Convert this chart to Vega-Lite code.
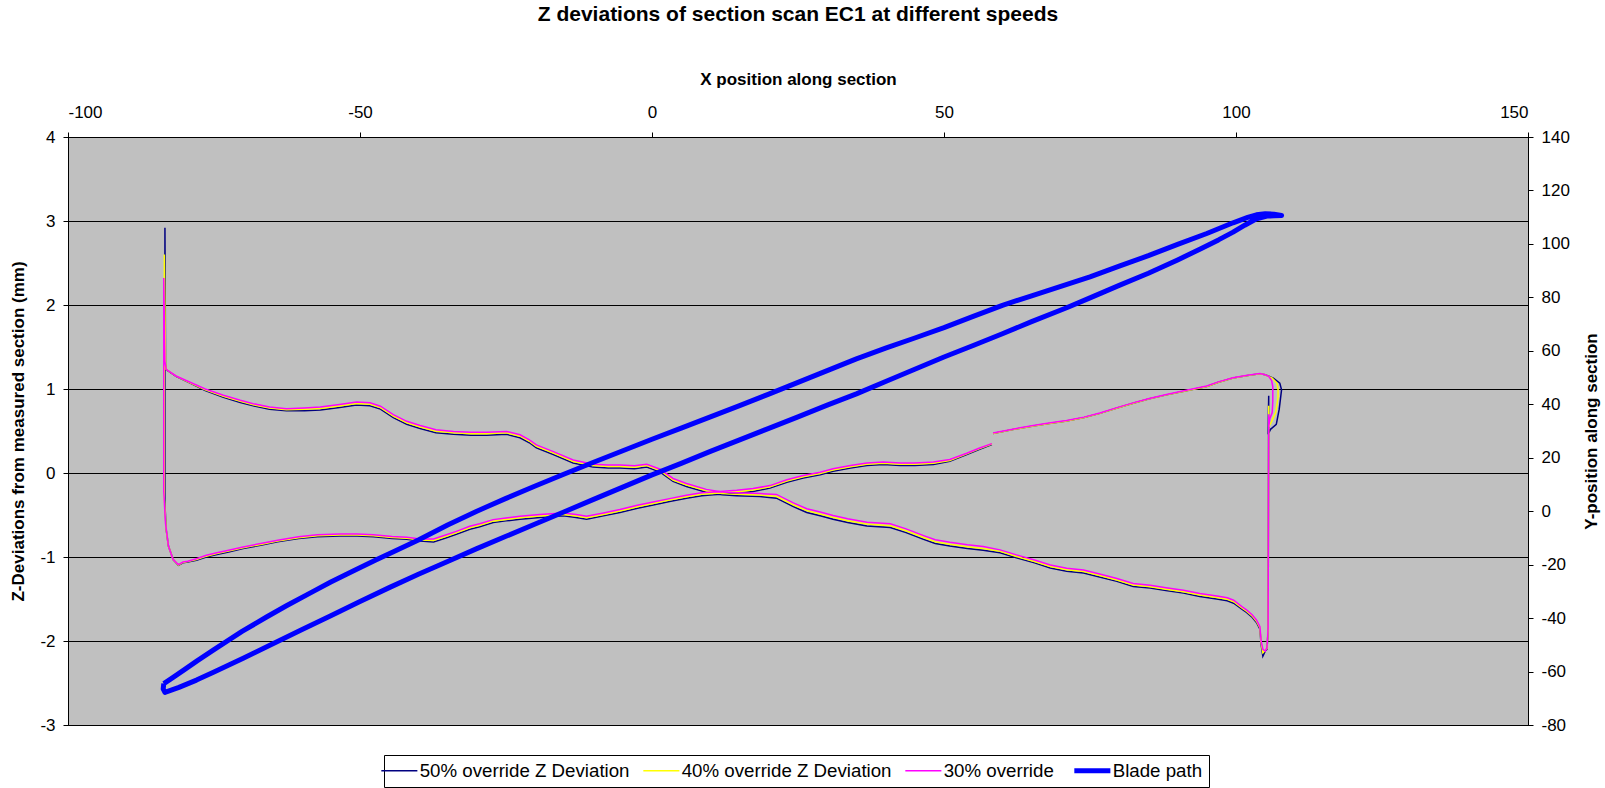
{
  "$schema": "https://vega.github.io/schema/vega-lite/v6.json",
  "width": 1460,
  "height": 588,
  "autosize": {"type": "none"},
  "padding": {"left": 68, "top": 137, "right": 77, "bottom": 63},
  "background": "#FFFFFF",
  "title": {"text": "Z deviations of section scan EC1 at different speeds", "anchor": "middle", "offset": 45},
  "config": {
    "font": "Liberation Sans",
    "view": {"fill": "#C0C0C0", "stroke": "#000000", "strokeWidth": 1},
    "title": {"font": "Liberation Sans", "fontSize": 21, "fontWeight": "bold", "color": "#000000"},
    "axis": {"domainColor": "#000000", "domainWidth": 1, "tickColor": "#000000", "tickWidth": 1, "tickSize": 5, "labelColor": "#000000", "labelFont": "Liberation Sans", "labelFontSize": 17, "titleFont": "Liberation Sans", "titleFontSize": 17, "titleFontWeight": "bold", "titleColor": "#000000", "grid": false,
      "labelExpr": "datum.value < 0 ? '-' + abs(datum.value) : '' + datum.value"},
    "legend": {"orient": "none", "legendX": 316, "legendY": 618, "direction": "horizontal", "strokeColor": "#000000", "fillColor": "#FFFFFF", "padding": 6, "labelFont": "Liberation Sans", "labelFontSize": 18.7, "labelColor": "#000000", "symbolType": "stroke", "symbolSize": 1300, "symbolStrokeWidth": 2, "labelOffset": 11, "columnPadding": 10, "labelLimit": 400}
  },
  "datasets": {
    "z50": [
      {"i":1,"x":58.2,"z":0.34},{"i":2,"x":56.0,"z":0.28},{"i":3,"x":53.9,"z":0.22},{"i":4,"x":51.0,"z":0.14},{"i":5,"x":48.2,"z":0.10},{"i":6,"x":45.0,"z":0.09},{"i":7,"x":42.5,"z":0.09},{"i":8,"x":39.6,"z":0.10},{"i":9,"x":36.8,"z":0.09},{"i":10,"x":34.0,"z":0.06},
      {"i":11,"x":31.0,"z":0.02},{"i":12,"x":28.8,"z":-0.02},{"i":13,"x":25.9,"z":-0.06},{"i":14,"x":23.1,"z":-0.11},{"i":15,"x":20.2,"z":-0.18},{"i":16,"x":17.3,"z":-0.22},{"i":17,"x":14.5,"z":-0.24},{"i":18,"x":10.5,"z":-0.26},{"i":19,"x":8.5,"z":-0.27},{"i":20,"x":5.9,"z":-0.30},
      {"i":21,"x":3.0,"z":-0.34},{"i":22,"x":0.2,"z":-0.38},{"i":23,"x":-2.5,"z":-0.42},{"i":24,"x":-5.5,"z":-0.47},{"i":25,"x":-8.3,"z":-0.51},{"i":26,"x":-11.2,"z":-0.55},{"i":27,"x":-13.0,"z":-0.53},{"i":28,"x":-15.2,"z":-0.51},{"i":29,"x":-19.2,"z":-0.53},{"i":30,"x":-22.6,"z":-0.55},
      {"i":31,"x":-25.0,"z":-0.57},{"i":32,"x":-27.2,"z":-0.59},{"i":33,"x":-29.5,"z":-0.64},{"i":34,"x":-31.2,"z":-0.67},{"i":35,"x":-33.5,"z":-0.73},{"i":36,"x":-35.2,"z":-0.77},{"i":37,"x":-37.4,"z":-0.82},{"i":38,"x":-39.7,"z":-0.81},{"i":39,"x":-42.0,"z":-0.79},{"i":40,"x":-44.5,"z":-0.78},
      {"i":41,"x":-47.7,"z":-0.76},{"i":42,"x":-50.5,"z":-0.75},{"i":43,"x":-53.4,"z":-0.75},{"i":44,"x":-57.3,"z":-0.76},{"i":45,"x":-60.5,"z":-0.78},{"i":46,"x":-64.1,"z":-0.82},{"i":47,"x":-67.0,"z":-0.86},{"i":48,"x":-70.0,"z":-0.90},{"i":49,"x":-72.5,"z":-0.94},{"i":50,"x":-74.5,"z":-0.97},
      {"i":51,"x":-76.3,"z":-1.00},{"i":52,"x":-78.0,"z":-1.04},{"i":53,"x":-79.5,"z":-1.06},{"i":54,"x":-80.3,"z":-1.07},{"i":55,"x":-81.1,"z":-1.10},{"i":56,"x":-82.0,"z":-1.03},{"i":57,"x":-82.8,"z":-0.87},{"i":58,"x":-83.2,"z":-0.67},{"i":59,"x":-83.4,"z":-0.37},{"i":60,"x":-83.4,"z":2.92},
      {"i":61,"x":-83.3,"z":1.30},{"i":62,"x":-83.2,"z":1.23},{"i":63,"x":-81.5,"z":1.15},{"i":64,"x":-79.1,"z":1.07},{"i":65,"x":-76.5,"z":0.98},{"i":66,"x":-73.4,"z":0.90},{"i":67,"x":-70.5,"z":0.84},{"i":68,"x":-68.3,"z":0.80},{"i":69,"x":-65.5,"z":0.76},{"i":70,"x":-62.6,"z":0.74},
      {"i":71,"x":-59.5,"z":0.74},{"i":72,"x":-56.8,"z":0.75},{"i":73,"x":-53.5,"z":0.78},{"i":74,"x":-50.6,"z":0.81},{"i":75,"x":-48.3,"z":0.80},{"i":76,"x":-46.5,"z":0.76},{"i":77,"x":-44.3,"z":0.66},{"i":78,"x":-42.0,"z":0.58},{"i":79,"x":-39.7,"z":0.53},{"i":80,"x":-37.0,"z":0.48},
      {"i":81,"x":-34.0,"z":0.46},{"i":82,"x":-31.0,"z":0.45},{"i":83,"x":-28.3,"z":0.45},{"i":84,"x":-24.9,"z":0.46},{"i":85,"x":-22.6,"z":0.42},{"i":86,"x":-21.0,"z":0.36},{"i":87,"x":-19.8,"z":0.30},{"i":88,"x":-16.9,"z":0.22},{"i":89,"x":-13.5,"z":0.12},{"i":90,"x":-10.1,"z":0.07},
      {"i":91,"x":-7.5,"z":0.06},{"i":92,"x":-5.5,"z":0.06},{"i":93,"x":-3.0,"z":0.05},{"i":94,"x":-0.9,"z":0.07},{"i":95,"x":1.4,"z":0.01},{"i":96,"x":3.6,"z":-0.10},{"i":97,"x":5.9,"z":-0.16},{"i":98,"x":9.3,"z":-0.23},{"i":99,"x":12.0,"z":-0.26},{"i":100,"x":14.5,"z":-0.27},
      {"i":101,"x":18.5,"z":-0.28},{"i":102,"x":21.3,"z":-0.30},{"i":103,"x":24.2,"z":-0.40},{"i":104,"x":26.5,"z":-0.47},{"i":105,"x":28.8,"z":-0.51},{"i":106,"x":31.0,"z":-0.55},{"i":107,"x":33.5,"z":-0.59},{"i":108,"x":36.8,"z":-0.63},{"i":109,"x":40.8,"z":-0.65},{"i":110,"x":43.5,"z":-0.71},
      {"i":111,"x":46.5,"z":-0.79},{"i":112,"x":48.5,"z":-0.84},{"i":113,"x":51.0,"z":-0.87},{"i":114,"x":54.0,"z":-0.90},{"i":115,"x":56.7,"z":-0.92},{"i":116,"x":59.6,"z":-0.95},{"i":117,"x":62.4,"z":-1.01},{"i":118,"x":65.5,"z":-1.07},{"i":119,"x":68.2,"z":-1.13},{"i":120,"x":71.0,"z":-1.17},
      {"i":121,"x":73.9,"z":-1.19},{"i":122,"x":76.8,"z":-1.24},{"i":123,"x":79.6,"z":-1.29},{"i":124,"x":82.4,"z":-1.35},{"i":125,"x":85.3,"z":-1.37},{"i":126,"x":88.0,"z":-1.40},{"i":127,"x":91.0,"z":-1.43},{"i":128,"x":93.8,"z":-1.47},{"i":129,"x":96.7,"z":-1.50},{"i":130,"x":98.5,"z":-1.52},
      {"i":131,"x":99.6,"z":-1.55},{"i":132,"x":101.0,"z":-1.62},{"i":133,"x":101.8,"z":-1.66},{"i":134,"x":102.8,"z":-1.72},{"i":135,"x":103.5,"z":-1.78},{"i":136,"x":104.1,"z":-1.86},{"i":137,"x":104.3,"z":-2.04},{"i":138,"x":104.6,"z":-2.18},{"i":139,"x":105.0,"z":-2.12},{"i":140,"x":105.3,"z":-2.10},
      {"i":141,"x":105.5,"z":-1.88},{"i":142,"x":105.6,"z":0.92},{"i":143,"x":105.5,"z":0.46},{"i":144,"x":105.9,"z":0.52},{"i":145,"x":106.9,"z":0.58},{"i":146,"x":107.4,"z":0.76},{"i":147,"x":107.8,"z":0.99},{"i":148,"x":107.5,"z":1.07},{"i":149,"x":106.4,"z":1.13},{"i":150,"x":105.0,"z":1.17},
      {"i":151,"x":104.1,"z":1.18},{"i":152,"x":102.0,"z":1.16},{"i":153,"x":99.5,"z":1.13},{"i":154,"x":97.0,"z":1.08},{"i":155,"x":95.0,"z":1.03},{"i":156,"x":91.5,"z":0.98},{"i":157,"x":88.1,"z":0.93},{"i":158,"x":85.0,"z":0.88},{"i":159,"x":82.4,"z":0.83},{"i":160,"x":79.5,"z":0.77},
      {"i":161,"x":76.7,"z":0.71},{"i":162,"x":74.0,"z":0.66},{"i":163,"x":71.0,"z":0.62},{"i":164,"x":68.0,"z":0.59},{"i":165,"x":65.3,"z":0.56},{"i":166,"x":62.0,"z":0.52},{"i":167,"x":58.4,"z":0.47}
    ],
    "z40": [
      {"i":1,"x":58.2,"z":0.345},{"i":2,"x":56.0,"z":0.288},{"i":3,"x":53.9,"z":0.228},{"i":4,"x":51.0,"z":0.15},{"i":5,"x":48.2,"z":0.115},{"i":6,"x":45.0,"z":0.105},{"i":7,"x":42.5,"z":0.105},{"i":8,"x":39.6,"z":0.115},{"i":9,"x":36.8,"z":0.105},{"i":10,"x":34.0,"z":0.075},
      {"i":11,"x":31.0,"z":0.035},{"i":12,"x":28.8,"z":-0.005},{"i":13,"x":25.9,"z":-0.045},{"i":14,"x":23.1,"z":-0.095},{"i":15,"x":20.2,"z":-0.165},{"i":16,"x":17.3,"z":-0.203},{"i":17,"x":14.5,"z":-0.223},{"i":18,"x":10.5,"z":-0.243},{"i":19,"x":8.5,"z":-0.253},{"i":20,"x":5.9,"z":-0.283},
      {"i":21,"x":3.0,"z":-0.323},{"i":22,"x":0.2,"z":-0.363},{"i":23,"x":-2.5,"z":-0.403},{"i":24,"x":-5.5,"z":-0.453},{"i":25,"x":-8.3,"z":-0.493},{"i":26,"x":-11.2,"z":-0.533},{"i":27,"x":-13.0,"z":-0.513},{"i":28,"x":-15.2,"z":-0.493},{"i":29,"x":-19.2,"z":-0.513},{"i":30,"x":-22.6,"z":-0.533},
      {"i":31,"x":-25.0,"z":-0.553},{"i":32,"x":-27.2,"z":-0.573},{"i":33,"x":-29.5,"z":-0.623},{"i":34,"x":-31.2,"z":-0.653},{"i":35,"x":-33.5,"z":-0.713},{"i":36,"x":-35.2,"z":-0.753},{"i":37,"x":-37.4,"z":-0.803},{"i":38,"x":-39.7,"z":-0.798},{"i":39,"x":-42.0,"z":-0.778},{"i":40,"x":-44.5,"z":-0.768},
      {"i":41,"x":-47.7,"z":-0.748},{"i":42,"x":-50.5,"z":-0.738},{"i":43,"x":-53.4,"z":-0.738},{"i":44,"x":-57.3,"z":-0.748},{"i":45,"x":-60.5,"z":-0.77},{"i":46,"x":-64.1,"z":-0.81},{"i":47,"x":-67.0,"z":-0.85},{"i":48,"x":-70.0,"z":-0.89},{"i":49,"x":-72.5,"z":-0.93},{"i":50,"x":-74.5,"z":-0.96},
      {"i":51,"x":-76.3,"z":-0.99},{"i":52,"x":-78.0,"z":-1.03},{"i":53,"x":-79.5,"z":-1.055},{"i":54,"x":-80.3,"z":-1.065},{"i":55,"x":-81.1,"z":-1.095},{"i":56,"x":-82.0,"z":-1.03},{"i":57,"x":-82.8,"z":-0.87},{"i":58,"x":-83.2,"z":-0.67},{"i":59,"x":-83.5,"z":-0.30},{"i":60,"x":-83.5,"z":2.60},
      {"i":61,"x":-83.3,"z":1.31},{"i":62,"x":-83.2,"z":1.233},{"i":63,"x":-81.5,"z":1.153},{"i":64,"x":-79.1,"z":1.075},{"i":65,"x":-76.5,"z":0.99},{"i":66,"x":-73.4,"z":0.913},{"i":67,"x":-70.5,"z":0.853},{"i":68,"x":-68.3,"z":0.813},{"i":69,"x":-65.5,"z":0.773},{"i":70,"x":-62.6,"z":0.753},
      {"i":71,"x":-59.5,"z":0.758},{"i":72,"x":-56.8,"z":0.768},{"i":73,"x":-53.5,"z":0.798},{"i":74,"x":-50.6,"z":0.828},{"i":75,"x":-48.3,"z":0.818},{"i":76,"x":-46.5,"z":0.778},{"i":77,"x":-44.3,"z":0.678},{"i":78,"x":-42.0,"z":0.598},{"i":79,"x":-39.7,"z":0.548},{"i":80,"x":-37.0,"z":0.498},
      {"i":81,"x":-34.0,"z":0.478},{"i":82,"x":-31.0,"z":0.468},{"i":83,"x":-28.3,"z":0.468},{"i":84,"x":-24.9,"z":0.478},{"i":85,"x":-22.6,"z":0.438},{"i":86,"x":-21.0,"z":0.378},{"i":87,"x":-19.8,"z":0.318},{"i":88,"x":-16.9,"z":0.238},{"i":89,"x":-13.5,"z":0.138},{"i":90,"x":-10.1,"z":0.088},
      {"i":91,"x":-7.5,"z":0.078},{"i":92,"x":-5.5,"z":0.078},{"i":93,"x":-3.0,"z":0.068},{"i":94,"x":-0.9,"z":0.088},{"i":95,"x":1.4,"z":0.028},{"i":96,"x":3.6,"z":-0.083},{"i":97,"x":5.9,"z":-0.143},{"i":98,"x":9.3,"z":-0.213},{"i":99,"x":12.0,"z":-0.243},{"i":100,"x":14.5,"z":-0.253},
      {"i":101,"x":18.5,"z":-0.263},{"i":102,"x":21.3,"z":-0.278},{"i":103,"x":24.2,"z":-0.378},{"i":104,"x":26.5,"z":-0.448},{"i":105,"x":28.8,"z":-0.488},{"i":106,"x":31.0,"z":-0.528},{"i":107,"x":33.5,"z":-0.568},{"i":108,"x":36.8,"z":-0.608},{"i":109,"x":40.8,"z":-0.628},{"i":110,"x":43.5,"z":-0.688},
      {"i":111,"x":46.5,"z":-0.768},{"i":112,"x":48.5,"z":-0.818},{"i":113,"x":51.0,"z":-0.848},{"i":114,"x":54.0,"z":-0.878},{"i":115,"x":56.7,"z":-0.898},{"i":116,"x":59.6,"z":-0.933},{"i":117,"x":62.4,"z":-0.993},{"i":118,"x":65.5,"z":-1.053},{"i":119,"x":68.2,"z":-1.113},{"i":120,"x":71.0,"z":-1.153},
      {"i":121,"x":73.9,"z":-1.173},{"i":122,"x":76.8,"z":-1.223},{"i":123,"x":79.6,"z":-1.273},{"i":124,"x":82.4,"z":-1.333},{"i":125,"x":85.3,"z":-1.353},{"i":126,"x":88.0,"z":-1.383},{"i":127,"x":91.0,"z":-1.413},{"i":128,"x":93.8,"z":-1.453},{"i":129,"x":96.7,"z":-1.483},{"i":130,"x":98.5,"z":-1.503},
      {"i":131,"x":99.6,"z":-1.533},{"i":132,"x":101.0,"z":-1.605},{"i":133,"x":101.8,"z":-1.645},{"i":134,"x":102.8,"z":-1.705},{"i":135,"x":103.5,"z":-1.765},{"i":136,"x":104.1,"z":-1.845},{"i":137,"x":104.3,"z":-2.02},{"i":138,"x":104.6,"z":-2.14},{"i":139,"x":105.0,"z":-2.11},{"i":140,"x":105.3,"z":-2.09},
      {"i":141,"x":105.5,"z":-1.87},{"i":142,"x":105.6,"z":0.80},{"i":143,"x":105.6,"z":0.55},{"i":144,"x":106.0,"z":0.60},{"i":145,"x":106.8,"z":0.72},{"i":146,"x":107.2,"z":0.90},{"i":147,"x":107.2,"z":1.00},{"i":148,"x":107.0,"z":1.07},{"i":149,"x":106.2,"z":1.13},{"i":150,"x":105.0,"z":1.17},
      {"i":151,"x":104.1,"z":1.18},{"i":152,"x":102.0,"z":1.16},{"i":153,"x":99.5,"z":1.13},{"i":154,"x":97.0,"z":1.08},{"i":155,"x":95.0,"z":1.03},{"i":156,"x":91.5,"z":0.98},{"i":157,"x":88.1,"z":0.93},{"i":158,"x":85.0,"z":0.88},{"i":159,"x":82.4,"z":0.83},{"i":160,"x":79.5,"z":0.77},
      {"i":161,"x":76.7,"z":0.71},{"i":162,"x":74.0,"z":0.66},{"i":163,"x":71.0,"z":0.62},{"i":164,"x":68.0,"z":0.59},{"i":165,"x":65.3,"z":0.56},{"i":166,"x":62.0,"z":0.52},{"i":167,"x":58.4,"z":0.47}
    ],
    "z30": [
      {"i":1,"x":58.2,"z":0.35},{"i":2,"x":56.0,"z":0.295},{"i":3,"x":53.9,"z":0.235},{"i":4,"x":51.0,"z":0.16},{"i":5,"x":48.2,"z":0.13},{"i":6,"x":45.0,"z":0.12},{"i":7,"x":42.5,"z":0.12},{"i":8,"x":39.6,"z":0.13},{"i":9,"x":36.8,"z":0.12},{"i":10,"x":34.0,"z":0.09},
      {"i":11,"x":31.0,"z":0.05},{"i":12,"x":28.8,"z":0.01},{"i":13,"x":25.9,"z":-0.03},{"i":14,"x":23.1,"z":-0.08},{"i":15,"x":20.2,"z":-0.15},{"i":16,"x":17.3,"z":-0.185},{"i":17,"x":14.5,"z":-0.205},{"i":18,"x":10.5,"z":-0.225},{"i":19,"x":8.5,"z":-0.235},{"i":20,"x":5.9,"z":-0.265},
      {"i":21,"x":3.0,"z":-0.305},{"i":22,"x":0.2,"z":-0.345},{"i":23,"x":-2.5,"z":-0.385},{"i":24,"x":-5.5,"z":-0.435},{"i":25,"x":-8.3,"z":-0.475},{"i":26,"x":-11.2,"z":-0.515},{"i":27,"x":-13.0,"z":-0.495},{"i":28,"x":-15.2,"z":-0.475},{"i":29,"x":-19.2,"z":-0.495},{"i":30,"x":-22.6,"z":-0.515},
      {"i":31,"x":-25.0,"z":-0.535},{"i":32,"x":-27.2,"z":-0.555},{"i":33,"x":-29.5,"z":-0.605},{"i":34,"x":-31.2,"z":-0.635},{"i":35,"x":-33.5,"z":-0.695},{"i":36,"x":-35.2,"z":-0.735},{"i":37,"x":-37.4,"z":-0.785},{"i":38,"x":-39.7,"z":-0.785},{"i":39,"x":-42.0,"z":-0.765},{"i":40,"x":-44.5,"z":-0.755},
      {"i":41,"x":-47.7,"z":-0.735},{"i":42,"x":-50.5,"z":-0.725},{"i":43,"x":-53.4,"z":-0.725},{"i":44,"x":-57.3,"z":-0.735},{"i":45,"x":-60.5,"z":-0.76},{"i":46,"x":-64.1,"z":-0.80},{"i":47,"x":-67.0,"z":-0.84},{"i":48,"x":-70.0,"z":-0.88},{"i":49,"x":-72.5,"z":-0.92},{"i":50,"x":-74.5,"z":-0.95},
      {"i":51,"x":-76.3,"z":-0.98},{"i":52,"x":-78.0,"z":-1.02},{"i":53,"x":-79.5,"z":-1.05},{"i":54,"x":-80.3,"z":-1.06},{"i":55,"x":-81.1,"z":-1.09},{"i":56,"x":-82.0,"z":-1.03},{"i":57,"x":-82.8,"z":-0.87},{"i":58,"x":-83.3,"z":-0.60},{"i":59,"x":-83.6,"z":-0.22},{"i":60,"x":-83.6,"z":2.32},
      {"i":61,"x":-83.4,"z":1.33},{"i":62,"x":-83.2,"z":1.235},{"i":63,"x":-81.5,"z":1.155},{"i":64,"x":-79.1,"z":1.08},{"i":65,"x":-76.5,"z":1.00},{"i":66,"x":-73.4,"z":0.925},{"i":67,"x":-70.5,"z":0.865},{"i":68,"x":-68.3,"z":0.825},{"i":69,"x":-65.5,"z":0.785},{"i":70,"x":-62.6,"z":0.765},
      {"i":71,"x":-59.5,"z":0.775},{"i":72,"x":-56.8,"z":0.785},{"i":73,"x":-53.5,"z":0.815},{"i":74,"x":-50.6,"z":0.845},{"i":75,"x":-48.3,"z":0.835},{"i":76,"x":-46.5,"z":0.795},{"i":77,"x":-44.3,"z":0.695},{"i":78,"x":-42.0,"z":0.615},{"i":79,"x":-39.7,"z":0.565},{"i":80,"x":-37.0,"z":0.515},
      {"i":81,"x":-34.0,"z":0.495},{"i":82,"x":-31.0,"z":0.485},{"i":83,"x":-28.3,"z":0.485},{"i":84,"x":-24.9,"z":0.495},{"i":85,"x":-22.6,"z":0.455},{"i":86,"x":-21.0,"z":0.395},{"i":87,"x":-19.8,"z":0.335},{"i":88,"x":-16.9,"z":0.255},{"i":89,"x":-13.5,"z":0.155},{"i":90,"x":-10.1,"z":0.105},
      {"i":91,"x":-7.5,"z":0.095},{"i":92,"x":-5.5,"z":0.095},{"i":93,"x":-3.0,"z":0.085},{"i":94,"x":-0.9,"z":0.105},{"i":95,"x":1.4,"z":0.045},{"i":96,"x":3.6,"z":-0.065},{"i":97,"x":5.9,"z":-0.125},{"i":98,"x":9.3,"z":-0.195},{"i":99,"x":12.0,"z":-0.225},{"i":100,"x":14.5,"z":-0.235},
      {"i":101,"x":18.5,"z":-0.245},{"i":102,"x":21.3,"z":-0.255},{"i":103,"x":24.2,"z":-0.355},{"i":104,"x":26.5,"z":-0.425},{"i":105,"x":28.8,"z":-0.465},{"i":106,"x":31.0,"z":-0.505},{"i":107,"x":33.5,"z":-0.545},{"i":108,"x":36.8,"z":-0.585},{"i":109,"x":40.8,"z":-0.605},{"i":110,"x":43.5,"z":-0.665},
      {"i":111,"x":46.5,"z":-0.745},{"i":112,"x":48.5,"z":-0.795},{"i":113,"x":51.0,"z":-0.825},{"i":114,"x":54.0,"z":-0.855},{"i":115,"x":56.7,"z":-0.875},{"i":116,"x":59.6,"z":-0.915},{"i":117,"x":62.4,"z":-0.975},{"i":118,"x":65.5,"z":-1.035},{"i":119,"x":68.2,"z":-1.095},{"i":120,"x":71.0,"z":-1.135},
      {"i":121,"x":73.9,"z":-1.155},{"i":122,"x":76.8,"z":-1.205},{"i":123,"x":79.6,"z":-1.255},{"i":124,"x":82.4,"z":-1.315},{"i":125,"x":85.3,"z":-1.335},{"i":126,"x":88.0,"z":-1.365},{"i":127,"x":91.0,"z":-1.395},{"i":128,"x":93.8,"z":-1.435},{"i":129,"x":96.7,"z":-1.465},{"i":130,"x":98.5,"z":-1.485},
      {"i":131,"x":99.6,"z":-1.515},{"i":132,"x":101.0,"z":-1.59},{"i":133,"x":101.8,"z":-1.63},{"i":134,"x":102.8,"z":-1.69},{"i":135,"x":103.5,"z":-1.75},{"i":136,"x":104.1,"z":-1.83},{"i":137,"x":104.3,"z":-2.00},{"i":138,"x":104.6,"z":-2.10},{"i":139,"x":105.0,"z":-2.12},{"i":140,"x":105.3,"z":-2.08},
      {"i":141,"x":105.5,"z":-1.85},{"i":142,"x":105.6,"z":0.70},{"i":143,"x":105.6,"z":0.55},{"i":144,"x":105.8,"z":0.65},{"i":145,"x":106.2,"z":0.72},{"i":146,"x":106.3,"z":0.85},{"i":147,"x":106.3,"z":1.03},{"i":148,"x":106.1,"z":1.10},{"i":149,"x":105.6,"z":1.15},{"i":150,"x":105.0,"z":1.17},
      {"i":151,"x":104.1,"z":1.185},{"i":152,"x":102.0,"z":1.165},{"i":153,"x":99.5,"z":1.135},{"i":154,"x":97.0,"z":1.085},{"i":155,"x":95.0,"z":1.035},{"i":156,"x":91.5,"z":0.985},{"i":157,"x":88.1,"z":0.935},{"i":158,"x":85.0,"z":0.885},{"i":159,"x":82.4,"z":0.835},{"i":160,"x":79.5,"z":0.775},
      {"i":161,"x":76.7,"z":0.715},{"i":162,"x":74.0,"z":0.665},{"i":163,"x":71.0,"z":0.625},{"i":164,"x":68.0,"z":0.595},{"i":165,"x":65.3,"z":0.565},{"i":166,"x":62.0,"z":0.525},{"i":167,"x":58.4,"z":0.475}
    ],
    "blade": [
      {"i":0,"x":-83.6,"y":-64.5},{"i":1,"x":-82.0,"y":-62.2},{"i":2,"x":-80.0,"y":-59.2},{"i":3,"x":-77.9,"y":-56.0},{"i":4,"x":-75.0,"y":-51.8},{"i":5,"x":-70.2,"y":-45.0},{"i":6,"x":-66.0,"y":-39.6},{"i":7,"x":-62.6,"y":-35.4},{"i":8,"x":-58.0,"y":-30.0},{"i":9,"x":-55.0,"y":-26.5},
      {"i":10,"x":-51.0,"y":-22.2},{"i":11,"x":-47.3,"y":-18.3},{"i":12,"x":-44.0,"y":-14.9},{"i":13,"x":-40.0,"y":-10.8},{"i":14,"x":-35.0,"y":-5.2},{"i":15,"x":-30.0,"y":0.0},{"i":16,"x":-25.0,"y":4.8},{"i":17,"x":-20.0,"y":9.4},{"i":18,"x":-15.0,"y":13.9},{"i":19,"x":-10.0,"y":18.3},
      {"i":20,"x":-5.0,"y":22.6},{"i":21,"x":0.0,"y":26.9},{"i":22,"x":5.0,"y":31.1},{"i":23,"x":10.0,"y":35.3},{"i":24,"x":15.0,"y":39.5},{"i":25,"x":20.0,"y":43.8},{"i":26,"x":25.0,"y":48.2},{"i":27,"x":30.0,"y":52.6},{"i":28,"x":35.0,"y":57.0},{"i":29,"x":40.0,"y":61.0},
      {"i":30,"x":45.0,"y":64.8},{"i":31,"x":50.0,"y":68.7},{"i":32,"x":55.0,"y":72.9},{"i":33,"x":60.0,"y":77.0},{"i":34,"x":65.0,"y":80.6},{"i":35,"x":70.0,"y":84.1},{"i":36,"x":75.0,"y":87.7},{"i":37,"x":80.0,"y":91.7},{"i":38,"x":85.0,"y":95.6},{"i":39,"x":90.0,"y":99.8},
      {"i":40,"x":95.0,"y":103.9},{"i":41,"x":99.5,"y":107.9},{"i":42,"x":102.0,"y":109.9},{"i":43,"x":103.5,"y":110.9},{"i":44,"x":105.0,"y":111.3},{"i":45,"x":106.5,"y":111.1},{"i":46,"x":107.8,"y":110.6},{"i":47,"x":106.5,"y":110.5},{"i":48,"x":105.3,"y":110.4},{"i":49,"x":103.5,"y":109.4},
      {"i":50,"x":101.5,"y":107.0},{"i":51,"x":99.5,"y":104.4},{"i":52,"x":97.0,"y":101.5},{"i":53,"x":93.8,"y":98.0},{"i":54,"x":90.0,"y":94.0},{"i":55,"x":85.0,"y":89.0},{"i":56,"x":80.0,"y":84.5},{"i":57,"x":75.0,"y":79.8},{"i":58,"x":71.0,"y":76.1},{"i":59,"x":65.0,"y":70.9},
      {"i":60,"x":60.0,"y":66.4},{"i":61,"x":55.0,"y":62.0},{"i":62,"x":50.0,"y":57.7},{"i":63,"x":45.0,"y":53.1},{"i":64,"x":40.0,"y":48.5},{"i":65,"x":35.0,"y":43.9},{"i":66,"x":30.0,"y":39.7},{"i":67,"x":25.0,"y":35.3},{"i":68,"x":20.0,"y":31.0},{"i":69,"x":15.0,"y":26.7},
      {"i":70,"x":10.0,"y":22.4},{"i":71,"x":5.0,"y":17.9},{"i":72,"x":0.0,"y":13.6},{"i":73,"x":-5.0,"y":9.0},{"i":74,"x":-10.0,"y":4.4},{"i":75,"x":-15.0,"y":-0.2},{"i":76,"x":-20.0,"y":-4.8},{"i":77,"x":-25.0,"y":-9.4},{"i":78,"x":-30.0,"y":-14.0},{"i":79,"x":-35.0,"y":-18.8},
      {"i":80,"x":-40.0,"y":-23.6},{"i":81,"x":-45.0,"y":-28.6},{"i":82,"x":-50.0,"y":-33.8},{"i":83,"x":-55.0,"y":-39.1},{"i":84,"x":-60.0,"y":-44.4},{"i":85,"x":-65.0,"y":-49.7},{"i":86,"x":-70.0,"y":-55.0},{"i":87,"x":-75.0,"y":-60.2},{"i":88,"x":-78.0,"y":-63.2},{"i":89,"x":-81.0,"y":-65.9},
      {"i":90,"x":-83.4,"y":-67.8},{"i":91,"x":-83.7,"y":-66.5},{"i":92,"x":-83.6,"y":-64.5}
    ]
  },
  "encoding": {
    "x": {
      "field": "x", "type": "quantitative",
      "scale": {"domain": [-100, 150], "nice": false, "zero": false},
      "axis": {"orient": "top", "title": "X position along section", "values": [-100, -50, 0, 50, 100, 150], "labelPadding": 11, "titlePadding": 15}
    }
  },
  "layer": [
    {
      "encoding": {
        "y": {
          "field": "z", "type": "quantitative",
          "scale": {"domain": [-3, 4], "nice": false, "zero": false},
          "axis": {"orient": "left", "title": "Z-Deviations from measured section (mm)", "values": [-3, -2, -1, 0, 1, 2, 3, 4], "grid": true, "gridColor": "#000000", "gridOpacity": 1, "gridWidth": 1, "labelPadding": 8, "titlePadding": 12}
        },
        "order": {"field": "i", "type": "quantitative"}
      },
      "layer": [
        {
          "data": {"name": "z50"},
          "mark": {"type": "line", "strokeWidth": 1.5},
          "encoding": {
            "color": {"datum": "50% override Z Deviation", "type": "nominal", "title": null,
              "scale": {"domain": ["50% override Z Deviation", "40% override Z Deviation", "30% override", "Blade path"], "range": ["#000080", "#FFFF00", "#FF00FF", "#0000FF"]},
              "legend": {"encode": {"symbols": {"update": {"strokeWidth": {"signal": "datum.value === 'Blade path' ? 5 : 1.5"}}}}}}
          }
        },
        {
          "data": {"name": "z40"},
          "mark": {"type": "line", "strokeWidth": 1.5},
          "encoding": {
            "color": {"datum": "40% override Z Deviation", "type": "nominal", "title": null,
              "scale": {"domain": ["50% override Z Deviation", "40% override Z Deviation", "30% override", "Blade path"], "range": ["#000080", "#FFFF00", "#FF00FF", "#0000FF"]}}
          }
        },
        {
          "data": {"name": "z30"},
          "mark": {"type": "line", "strokeWidth": 1.5},
          "encoding": {
            "color": {"datum": "30% override", "type": "nominal", "title": null,
              "scale": {"domain": ["50% override Z Deviation", "40% override Z Deviation", "30% override", "Blade path"], "range": ["#000080", "#FFFF00", "#FF00FF", "#0000FF"]}}
          }
        }
      ]
    },
    {
      "data": {"name": "blade"},
      "mark": {"type": "line", "strokeWidth": 5, "strokeJoin": "round"},
      "encoding": {
        "y": {
          "field": "y", "type": "quantitative",
          "scale": {"domain": [-80, 140], "nice": false, "zero": false},
          "axis": {"orient": "right", "title": "Y-position along section", "values": [-80, -60, -40, -20, 0, 20, 40, 60, 80, 100, 120, 140], "labelPadding": 8, "titleAngle": 270, "titleBaseline": "top", "titlePadding": 14}
        },
        "order": {"field": "i", "type": "quantitative"},
        "color": {"datum": "Blade path", "type": "nominal", "title": null,
          "scale": {"domain": ["50% override Z Deviation", "40% override Z Deviation", "30% override", "Blade path"], "range": ["#000080", "#FFFF00", "#FF00FF", "#0000FF"]}}
      }
    }
  ],
  "resolve": {"scale": {"y": "independent"}}
}
